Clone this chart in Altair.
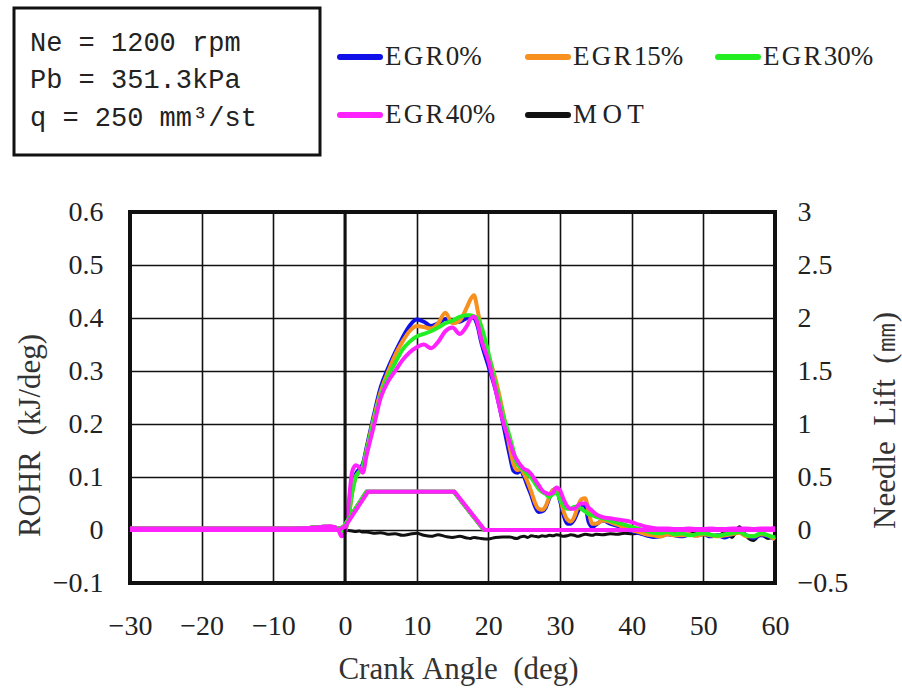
import altair as alt
import pandas as pd

# ---------------- data ----------------
CA_PRE = [-30, -25, -20, -15, -10, -5, -3, -2, -1, -0.5]
CA_RISE = [0, 0.5, 1, 1.5, 2, 2.5, 3, 4, 5, 6, 7, 8, 9]
CA_PEAK = [10, 11, 12, 13, 14, 15, 16, 17, 17.5, 18, 18.5, 19, 20, 21, 22]
CA_TAIL = [23, 23.5, 24, 24.5, 25, 25.5, 26, 26.5, 27, 27.5, 28, 28.5, 29, 29.5,
           30, 30.5, 31, 31.5, 32, 32.5, 33, 33.5, 34, 34.5, 35]
CA_END = [36, 37, 38, 39, 40, 41, 42, 43, 44, 45, 46, 47, 48, 49, 50,
          51, 52, 53, 54, 55, 56, 57, 58, 59, 60]
CRANK_ANGLE = CA_PRE + CA_RISE + CA_PEAK + CA_TAIL + CA_END

ROHR_EGR0 = (
    [0.003, 0.003, 0.003, 0.003, 0.003, 0.004, 0.006, 0.006, 0.003, -0.003]
    + [0.0, 0.03, 0.075, 0.105, 0.115, 0.125, 0.155, 0.215, 0.27, 0.305, 0.335, 0.362, 0.385]
    + [0.397, 0.393, 0.385, 0.39, 0.398, 0.395, 0.393, 0.40, 0.402, 0.40, 0.385, 0.355, 0.31, 0.265, 0.205]
    + [0.14, 0.112, 0.108, 0.112, 0.10, 0.082, 0.065, 0.045, 0.034, 0.035, 0.042, 0.06, 0.075, 0.078,
       0.055, 0.028, 0.012, 0.012, 0.02, 0.035, 0.048, 0.045, 0.015, 0.006, 0.01]
    + [0.018, 0.012, 0.008, 0.004, -0.002, -0.006, -0.01, -0.013, -0.012, -0.008, -0.01, -0.012, -0.009,
       -0.01, -0.008, -0.012, -0.01, -0.014, -0.008, -0.004, -0.01, -0.015, -0.01, -0.012, -0.017]
)
ROHR_EGR15 = (
    [0.003, 0.003, 0.003, 0.003, 0.003, 0.004, 0.006, 0.006, 0.003, -0.004]
    + [0.0, 0.025, 0.07, 0.10, 0.11, 0.12, 0.15, 0.21, 0.262, 0.298, 0.33, 0.355, 0.375]
    + [0.385, 0.383, 0.38, 0.39, 0.41, 0.39, 0.395, 0.42, 0.435, 0.443, 0.415, 0.38, 0.33, 0.285, 0.225]
    + [0.155, 0.125, 0.113, 0.115, 0.105, 0.09, 0.072, 0.052, 0.04, 0.038, 0.045, 0.062, 0.075, 0.077,
       0.06, 0.035, 0.02, 0.016, 0.025, 0.045, 0.058, 0.06, 0.035, 0.012, 0.012]
    + [0.018, 0.015, 0.01, 0.005, 0.0, -0.004, -0.008, -0.01, -0.012, -0.008, -0.01, -0.01, -0.008,
       -0.011, -0.008, -0.01, -0.012, -0.01, -0.008, -0.005, -0.012, -0.012, -0.008, -0.01, -0.018]
)
ROHR_EGR30 = (
    [0.003, 0.003, 0.003, 0.003, 0.003, 0.004, 0.006, 0.006, 0.003, -0.004]
    + [0.0, 0.025, 0.07, 0.10, 0.11, 0.12, 0.148, 0.205, 0.255, 0.29, 0.315, 0.34, 0.355]
    + [0.365, 0.37, 0.375, 0.382, 0.39, 0.395, 0.402, 0.405, 0.405, 0.403, 0.40, 0.385, 0.335, 0.275, 0.22]
    + [0.175, 0.15, 0.125, 0.118, 0.112, 0.105, 0.098, 0.088, 0.078, 0.072, 0.068, 0.062, 0.068, 0.07,
       0.058, 0.045, 0.04, 0.04, 0.044, 0.044, 0.04, 0.035, 0.03, 0.028, 0.025]
    + [0.022, 0.018, 0.014, 0.01, 0.006, 0.002, -0.002, -0.005, -0.006, -0.004, -0.008, -0.006, -0.01,
       -0.008, -0.006, -0.009, -0.011, -0.008, -0.006, -0.004, -0.01, -0.012, -0.006, -0.01, -0.014]
)
ROHR_EGR40 = (
    [0.003, 0.003, 0.003, 0.003, 0.003, 0.004, 0.006, 0.007, 0.002, -0.012]
    + [-0.005, 0.05, 0.11, 0.122, 0.118, 0.108, 0.14, 0.195, 0.25, 0.28, 0.30, 0.32, 0.335]
    + [0.345, 0.35, 0.343, 0.355, 0.375, 0.382, 0.37, 0.385, 0.398, 0.403, 0.39, 0.36, 0.32, 0.265, 0.207]
    + [0.165, 0.145, 0.132, 0.122, 0.115, 0.112, 0.105, 0.095, 0.085, 0.075, 0.07, 0.068, 0.07, 0.08,
       0.075, 0.058, 0.045, 0.04, 0.04, 0.046, 0.05, 0.05, 0.042, 0.036, 0.03]
    + [0.024, 0.022, 0.02, 0.018, 0.015, 0.01, 0.006, 0.004, 0.003, 0.003, 0.002, 0.002, 0.003,
       0.002, 0.002, 0.003, 0.002, 0.002, 0.003, 0.003, 0.003, 0.002, 0.003, 0.003, 0.004]
)
ROHR_MOT = (
    [0.002, 0.002, 0.002, 0.002, 0.002, 0.003, 0.003, 0.003, 0.002, 0.001]
    + [0.0, -0.001, -0.002, -0.003, -0.002, -0.004, -0.004, -0.006, -0.005, -0.008, -0.007, -0.01, -0.008]
    + [-0.006, -0.01, -0.012, -0.009, -0.012, -0.014, -0.012, -0.015, -0.016, -0.014, -0.015, -0.016,
       -0.017, -0.014, -0.013]
    + [-0.013, -0.015, -0.016, -0.013, -0.012, -0.014, -0.011, -0.012, -0.013, -0.011, -0.012, -0.01,
       -0.011, -0.009, -0.01, -0.012, -0.011, -0.009, -0.01, -0.012, -0.01, -0.008, -0.009, -0.01, -0.008]
    + [-0.009, -0.007, -0.008, -0.006, -0.007, -0.006, -0.005, -0.007, -0.006, -0.004, -0.003, -0.007,
       -0.008, -0.004, -0.006, -0.008, -0.012, -0.004, -0.014, 0.006, -0.012, -0.02, -0.008, -0.016, -0.01]
)

# needle lift (mm, right axis)
NEEDLE_CA_EGR40 = [-30, -1, 0, 3.2, 15.3, 19.5, 60]
NEEDLE_CA_OTHER = [-30, -1.2, -0.2, 3.0, 15.2, 19.4, 60]
NEEDLE_LIFT = [0.0, 0.0, 0.03, 0.36, 0.36, 0.0, 0.0]

SERIES = ["EGR0%", "EGR15%", "EGR30%", "EGR40%", "MOT"]
COLORS = ["#1010e8", "#f7901e", "#22ee22", "#ff22ff", "#111111"]
ROHR_VALUES = [ROHR_EGR0, ROHR_EGR15, ROHR_EGR30, ROHR_EGR40, ROHR_MOT]

SERIF = "Liberation Serif"
W, H = 645, 371
NB = "\u00a0"

# ---------------- encodings ----------------
x_enc = alt.X(
    "ca:Q",
    scale=alt.Scale(domain=[-30, 60], nice=False, zero=False),
    axis=alt.Axis(
        values=list(range(-30, 61, 10)), format="d", title="Crank" + NB + "Angle" + NB + NB + "(deg)",
        labelPadding=29, titleX=328, titleY=86, titleAlign="center", titleBaseline="middle",
        grid=True, labelFlush=False,
    ),
)
y_left = alt.Y(
    "v:Q",
    scale=alt.Scale(domain=[-0.1, 0.6], nice=False, zero=False),
    axis=alt.Axis(
        values=[-0.1, 0.0, 0.1, 0.2, 0.3, 0.4, 0.5, 0.6], format=".1~f",
        title="ROHR" + NB + NB + "(kJ/deg)", labelPadding=27, grid=True,
        titleAngle=270, titleX=-100, titleY=223, titleAlign="center", titleBaseline="middle",
    ),
)
y_right = alt.Y(
    "v:Q",
    scale=alt.Scale(domain=[-0.5, 3], nice=False, zero=False),
    axis=alt.Axis(
        orient="right", values=[-0.5, 0, 0.5, 1, 1.5, 2, 2.5, 3], format="~g",
        title="Needle" + NB + NB + "Lift" + NB + NB + "(㎜)", labelPadding=22, grid=False,
        titleAngle=270, titleX=110, titleY=208, titleAlign="center", titleBaseline="middle",
    ),
)

# ---------------- ROHR layers ----------------
dummy = alt.Data(values=[{"a": 1}])
rohr_layers = []
order = [4, 0, 1, 2, 3]  # MOT at bottom, EGR40% on top
for i in order:
    df = pd.DataFrame({"ca": CRANK_ANGLE, "v": ROHR_VALUES[i]})
    rohr_layers.append(
        alt.Chart(df).mark_line(color=COLORS[i], strokeWidth=3 if i == 4 else 4,
                                interpolate="monotone")
        .encode(x=x_enc, y=y_left)
    )

# thick zero crank-angle line
zero_rule = alt.Chart(dummy).mark_rule(color="#111", strokeWidth=3).encode(x=alt.datum(0))

# info box
box = alt.Chart(dummy).mark_rect(fill="white", fillOpacity=0, stroke="#111", strokeWidth=3).encode(
    x=alt.value(-116), x2=alt.value(190), y=alt.value(-204), y2=alt.value(-57)
)
BOX_LINES = ["Ne = 1200 rpm", "Pb = 351.3kPa", "q = 250 mm³/st"]
BOX_Y = [-169, -132, -94]
box_texts = [
    alt.Chart(dummy).mark_text(align="left", baseline="middle", font="Liberation Mono",
                               fontSize=27, color="#222")
    .encode(x=alt.value(-100), y=alt.value(yy), text=alt.value(t))
    for t, yy in zip(BOX_LINES, BOX_Y)
]

# legend
LEG_LABELS = ["E\u200aG\u200aR\u200a0%", "E\u200aG\u200aR\u200a15%", "E\u200aG\u200aR\u200a30%",
              "E\u200aG\u200aR\u200a40%", "M\u2009O\u2009T"]
LEG_X = [210, 398, 588, 210, 398]
LEG_Y = [-155, -155, -155, -97, -97]
legend_layers = []
for i in range(5):
    legend_layers.append(
        alt.Chart(dummy).mark_rule(color=COLORS[i], strokeWidth=6, strokeCap="round")
        .encode(x=alt.value(LEG_X[i]), x2=alt.value(LEG_X[i] + 40), y=alt.value(LEG_Y[i]))
    )
    legend_layers.append(
        alt.Chart(dummy).mark_text(align="left", baseline="middle", font=SERIF,
                                   fontSize=27, color="#222")
        .encode(x=alt.value(LEG_X[i] + 45), y=alt.value(LEG_Y[i]), text=alt.value(LEG_LABELS[i]))
    )

left_group = alt.layer(*rohr_layers, zero_rule, box, *box_texts, *legend_layers)

# ---------------- needle lift layers ----------------
needle_layers = []
for i in [0, 1, 2, 3]:
    xs = NEEDLE_CA_EGR40 if i == 3 else NEEDLE_CA_OTHER
    df = pd.DataFrame({"ca": xs, "v": NEEDLE_LIFT})
    needle_layers.append(
        alt.Chart(df).mark_line(color=COLORS[i], strokeWidth=4).encode(x=x_enc, y=y_right)
    )
right_group = alt.layer(*needle_layers)

chart = (
    alt.layer(left_group, right_group)
    .resolve_scale(y="independent")
    .properties(
        width=W, height=H,
        padding={"left": 130, "top": 212, "right": 127, "bottom": 107},
        autosize=alt.AutoSizeParams(type="none"),
        background="white",
    )
    .configure_axis(
        labelFont=SERIF, labelFontSize=28, labelColor="#222",
        titleFont=SERIF, titleFontSize=31, titleColor="#333", titleFontWeight="normal",
        domain=False, ticks=False, gridColor="#111", gridWidth=1.6, gridOpacity=1,
    )
    .configure_view(stroke="#111", strokeWidth=4)
)

chart.save("out.html", embed_options={"renderer": "svg", "actions": False})
